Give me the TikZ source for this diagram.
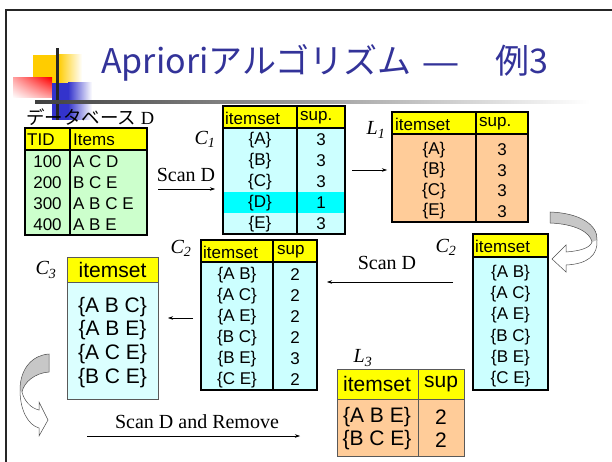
\documentclass[tikz,border=0pt]{standalone}
\usepackage{fontspec}
\setmainfont{Liberation Serif}
\setsansfont{Liberation Sans}
\newfontfamily\jpfont{Noto Sans CJK JP}
\usetikzlibrary{calc,positioning,arrows.meta,shadings}
\definecolor{hdryellow}{HTML}{FFFF00}
\definecolor{dbgreen}{HTML}{CCFFCC}
\definecolor{candcyan}{HTML}{CCFFFF}
\definecolor{rowcyan}{HTML}{00FFFF}
\definecolor{freqorange}{HTML}{FFCC99}
\definecolor{titleblue}{HTML}{333399}
\definecolor{decoyellow}{HTML}{FFCC00}
\definecolor{decoblue}{HTML}{3333CC}
\tikzset{
  cell/.style={draw, line width=1.5pt, anchor=north west, inner sep=0pt, outer sep=0pt},
  hdr/.style={cell, fill=hdryellow},
  thincell/.style={draw=black!65, line width=0.6pt, anchor=north west, inner sep=0pt, outer sep=0pt},
  txt/.style={font=\sffamily\fontsize{17}{19}\selectfont, inner sep=0pt},
  bigtxt/.style={font=\sffamily\fontsize{21}{23}\selectfont, inner sep=0pt},
  setlabel/.style={font=\fontsize{20}{22}\selectfont\itshape, inner sep=0pt},
  scanlabel/.style={font=\fontsize{20}{22}\selectfont, inner sep=0pt},
  arr/.style={-{Stealth[length=5pt,width=3.5pt]}, line width=0.5pt},
  blockarrow/.style={draw=black!70, line width=0.5pt}
}
\begin{document}
\begin{tikzpicture}[x=1pt, y=-1pt]
  \useasboundingbox (0,0) rectangle (612,462);
  % slide frame and corner decoration
  \draw[line width=2pt, black!85] (6,462) -- (6,10) -- (612,10);
  \fill[decoyellow] (33,55) rectangle (58,83);
  \shade[left color=decoyellow, right color=white] (58,55) rectangle (82,83);
  \shade[upper right=red, upper left=red!35!white, lower right=red!35!white, lower left=white] (13,78) rectangle (52,98);
  \fill[decoblue] (52,83) rectangle (68,120);
  \shade[left color=decoblue, right color=white] (68,83) rectangle (92,120);
  \fill[black!85] (56,48) rectangle (58.5,120);
  \shade[left color=black!75, right color=white] (35,100.5) rectangle (590,103.5);

  \node[font=\jpfont\fontsize{34}{37}\selectfont, text=titleblue, anchor=west, inner sep=0pt] (title) at (101,63) {Aprioriアルゴリズム\hspace{12pt}{\sffamily —}\hspace{38pt}例3};
  \node[font=\fontsize{18.5}{20}\selectfont, anchor=west, inner sep=0pt] (dbtitle) at (26,117) {{\jpfont データベース} D};

  % database D
  \node[hdr, minimum width=45pt, minimum height=22pt] (dtid) at (25,128) {};
  \node[hdr, minimum width=77pt, minimum height=22pt] (ditems) at (70,128) {};
  \node[cell, fill=dbgreen, minimum width=45pt, minimum height=85pt] (dtidbody) at (25,150) {};
  \node[cell, fill=dbgreen, minimum width=77pt, minimum height=85pt] (ditemsbody) at (70,150) {};
  \node[txt, anchor=west] (dtidtxt) at (27,140) {TID};
  \node[txt, anchor=west] (ditemstxt) at (73,140) {Items};
  \foreach \tid/\items [count=\i] in {100/A C D, 200/B C E, 300/A B C E, 400/A B E} {
    \node[txt] (dtid\i) at (47.5,{141+21*\i}) {\tid};
    \node[txt, anchor=west] (ditems\i) at (73,{141+21*\i}) {\items};
  }

  % C1
  \node[setlabel] (c1lbl) at (205,139) {C\textsubscript{1}};
  \node[hdr, minimum width=74pt, minimum height=22pt] (c1set) at (223,106) {};
  \node[hdr, minimum width=48pt, minimum height=22pt] (c1sup) at (297,106) {};
  \node[cell, fill=candcyan, minimum width=74pt, minimum height=106pt] (c1setbody) at (223,128) {};
  \node[cell, fill=candcyan, minimum width=48pt, minimum height=106pt] (c1supbody) at (297,128) {};
  \fill[rowcyan] (223.8,192.5) rectangle (344.2,213.5);
  \draw[line width=1.5pt] (c1supbody.north west) -- (c1supbody.south west);
  \node[txt, anchor=west] (c1settxt) at (225,118) {itemset};
  \node[txt, anchor=west] (c1suptxt) at (300,118) {sup.};
  \foreach \iset/\isup [count=\i] in {A/3, B/3, C/3, D/1, E/3} {
    \node[txt] (c1set\i) at (260,{119+21*\i}) {\{\iset\}};
    \node[txt] (c1sup\i) at (321,{119+21*\i}) {\isup};
  }

  % L1
  \node[setlabel] (l1lbl) at (376,130) {L\textsubscript{1}};
  \node[hdr, minimum width=84pt, minimum height=22pt] (l1set) at (392,112) {};
  \node[hdr, minimum width=52pt, minimum height=22pt] (l1sup) at (476,112) {};
  \node[cell, fill=freqorange, minimum width=84pt, minimum height=88pt] (l1setbody) at (392,134) {};
  \node[cell, fill=freqorange, minimum width=52pt, minimum height=88pt] (l1supbody) at (476,134) {};
  \node[txt, anchor=west] (l1settxt) at (395,124) {itemset};
  \node[txt, anchor=west] (l1suptxt) at (479,124) {sup.};
  \foreach \iset/\isup [count=\i] in {A/3, B/3, C/3, E/3} {
    \node[txt] (l1set\i) at (434,{129.5+20.5*\i}) {\{\iset\}};
    \node[txt] (l1sup\i) at (502,{129.5+20.5*\i}) {\isup};
  }

  % C2 (candidates)
  \node[setlabel] (c2albl) at (446,247) {C\textsubscript{2}};
  \node[hdr, minimum width=75pt, minimum height=23pt] (c2aset) at (473,234) {};
  \node[cell, fill=candcyan, minimum width=75pt, minimum height=133pt] (c2asetbody) at (473,257) {};
  \node[txt, anchor=west] (c2asettxt) at (475,246) {itemset};
  \foreach \iset [count=\i] in {A B, A C, A E, B C, B E, C E} {
    \node[txt] (c2aset\i) at (510.5,{252+21.2*\i}) {\{\iset\}};
  }

  % C2 (counted)
  \node[setlabel] (c2blbl) at (181,248) {C\textsubscript{2}};
  \node[hdr, minimum width=72pt, minimum height=22pt] (c2bset) at (201,240) {};
  \node[hdr, minimum width=44pt, minimum height=22pt] (c2bsup) at (273,240) {};
  \node[cell, fill=candcyan, minimum width=72pt, minimum height=128pt] (c2bsetbody) at (201,262) {};
  \node[cell, fill=candcyan, minimum width=44pt, minimum height=128pt] (c2bsupbody) at (273,262) {};
  \node[txt, anchor=west] (c2bsettxt) at (203,252) {itemset};
  \node[txt, anchor=west] (c2bsuptxt) at (277,252) {sup};
  \foreach \iset/\isup [count=\i] in {A B/2, A C/2, A E/2, B C/2, B E/3, C E/2} {
    \node[txt] (c2bset\i) at (237,{254+21*\i}) {\{\iset\}};
    \node[txt] (c2bsup\i) at (295,{254+21*\i}) {\isup};
  }

  % C3
  \node[setlabel] (c3lbl) at (46,270) {C\textsubscript{3}};
  \node[thincell, fill=hdryellow, minimum width=91pt, minimum height=25pt] (c3set) at (67,257) {};
  \node[thincell, fill=candcyan!70!white, minimum width=91pt, minimum height=117pt] (c3setbody) at (67,282) {};
  \node[bigtxt] (c3settxt) at (112.5,270) {itemset};
  \foreach \iset [count=\i] in {A B C, A B E, A C E, B C E} {
    \node[bigtxt] (c3set\i) at (112.5,{283+23.7*\i}) {\{\iset\}};
  }

  % L3
  \node[setlabel] (l3lbl) at (363,358) {L\textsubscript{3}};
  \node[thincell, fill=hdryellow, minimum width=81pt, minimum height=30pt] (l3set) at (337,369) {};
  \node[thincell, fill=hdryellow, minimum width=46pt, minimum height=30pt] (l3sup) at (418,369) {};
  \node[thincell, fill=freqorange, minimum width=81pt, minimum height=57pt] (l3setbody) at (337,399) {};
  \node[thincell, fill=freqorange, minimum width=46pt, minimum height=57pt] (l3supbody) at (418,399) {};
  \node[bigtxt] (l3settxt) at (377,384) {itemset};
  \node[bigtxt] (l3suptxt) at (441,384) {sup};
  \foreach \iset/\isup [count=\i] in {A B E/2, B C E/2} {
    \node[bigtxt] (l3set\i) at (377,{394+23*\i}) {\{\iset\}};
    \node[bigtxt] (l3sup\i) at (441,{394+23*\i}) {\isup};
  }

  % scans and arrows
  \node[scanlabel] (scan1) at (186,175) {Scan D};
  \coordinate (scan1a) at (158,189);
  \coordinate (scan1b) at (215,189);
  \draw[arr] (scan1a) -- (scan1b);
  \coordinate (prune1a) at (352,170);
  \coordinate (prune1b) at (387,170);
  \draw[arr] (prune1a) -- (prune1b);
  \node[scanlabel] (scan2) at (387,263) {Scan D};
  \coordinate (scan2a) at (453,282);
  \coordinate (scan2b) at (327,282);
  \draw[arr] (scan2a) -- (scan2b);
  \coordinate (join2a) at (193,318);
  \coordinate (join2b) at (168,318);
  \draw[arr] (join2a) -- (join2b);
  \node[scanlabel] (scan3) at (197,422) {Scan D and Remove};
  \coordinate (scan3a) at (87,436);
  \coordinate (scan3b) at (300,436);
  \draw[arr] (scan3a) -- (scan3b);

  % curved block arrows
  \fill[white] (550,212) -- (550,223) .. controls (575,224) and (590,232) .. (592,242) .. controls (590,248) and (580,251) .. (566,252) -- (566,245) -- (552,259) -- (566,272) -- (566,265) .. controls (588,264) and (598,255) .. (597,240) .. controls (598,225) and (580,213) .. (550,212) -- cycle;
  \fill[black!22] (550,212) -- (550,223) .. controls (575,224) and (590,232) .. (592,242) -- (597,240) .. controls (598,225) and (580,213) .. (550,212) -- cycle;
  \draw[blockarrow] (550,212) -- (550,223) .. controls (575,224) and (590,232) .. (592,242) .. controls (590,248) and (580,251) .. (566,252) -- (566,245) -- (552,259) -- (566,272) -- (566,265) .. controls (588,264) and (598,255) .. (597,240) .. controls (598,225) and (580,213) .. (550,212) -- cycle;

  \fill[white] (49,354) -- (49,372) .. controls (35,373) and (24,382) .. (22,392) .. controls (24,400) and (30,408) .. (39,410) -- (39,402) -- (48,420) -- (39,436) -- (39,428) .. controls (28,425) and (20,410) .. (20,390) .. controls (20,368) and (33,355) .. (49,354) -- cycle;
  \fill[black!22] (49,354) -- (49,372) .. controls (35,373) and (24,382) .. (22,392) -- (20,390) .. controls (20,368) and (33,355) .. (49,354) -- cycle;
  \draw[blockarrow] (49,354) -- (49,372) .. controls (35,373) and (24,382) .. (22,392) .. controls (24,400) and (30,408) .. (39,410) -- (39,402) -- (48,420) -- (39,436) -- (39,428) .. controls (28,425) and (20,410) .. (20,390) .. controls (20,368) and (33,355) .. (49,354) -- cycle;
\end{tikzpicture}
\end{document}
